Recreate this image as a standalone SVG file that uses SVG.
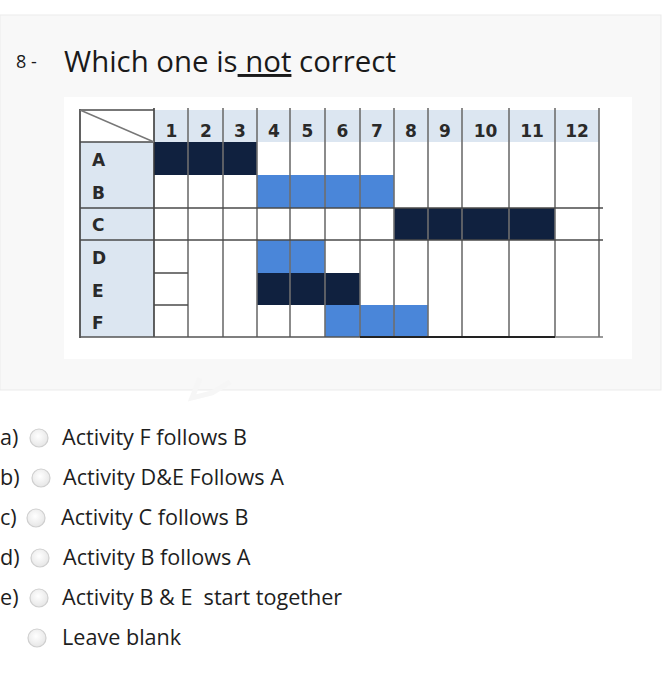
<svg xmlns="http://www.w3.org/2000/svg" width="664" height="700" viewBox="0 0 664 700">
<defs>
<radialGradient id="rg" cx="0.45" cy="0.4" r="0.6">
<stop offset="0" stop-color="#ffffff"/>
<stop offset="1" stop-color="#e6e6e6"/>
</radialGradient>
</defs>
<style>
.q{font-family:"Open Sans",sans-serif;fill:#1a1a1a}
.opt{font-family:"Open Sans",sans-serif;font-size:21.6px;fill:#1e1e1e}
.hd{font-family:"DejaVu Sans",sans-serif;font-weight:700;font-size:17px;fill:#2a2a2a;text-anchor:middle}
.lb{font-family:"DejaVu Sans",sans-serif;font-weight:700;font-size:17px;fill:#2a2a2a}
.v{stroke:#6e6e6e;stroke-width:1.6}
.h{stroke:#4a4a4a;stroke-width:1.6}
.dk{fill:#10213f}
.bl{fill:#4a86d9}
.rad{fill:url(#rg);stroke:#cfcfcf;stroke-width:1.2}
</style>
<rect x="0" y="0" width="664" height="700" fill="#ffffff"/>
<rect id="panel" x="0" y="15" width="661" height="375" fill="#f8f8f8" stroke="#ebebeb" stroke-width="1"/>
<g id="title">
<text class="q" x="16" y="68" font-size="18">8 -</text>
<text class="q" x="64" y="72" font-size="29.4">Which one is<tspan text-decoration="underline"> not</tspan> correct</text>
</g>
<rect id="imgbg" x="64" y="97" width="568" height="262" fill="#ffffff"/>
<path d="M200 378 L192 398 L212 393 L230 382" fill="none" stroke="#f6f6f6" stroke-width="5"/>
<g id="chart">
<rect x="154" y="110" width="445" height="32" fill="#dce6f1"/>
<rect x="80" y="142" width="74" height="195" fill="#dce6f1"/>
<rect x="80" y="110" width="74" height="32" fill="#ffffff"/>
<rect class="dk" x="154" y="142" width="103" height="33"/>
<rect class="bl" x="257" y="175" width="137" height="33"/>
<rect class="dk" x="394" y="208" width="161" height="32"/>
<rect class="bl" x="257" y="240" width="68" height="33"/>
<rect class="dk" x="257" y="273" width="103" height="32"/>
<rect class="bl" x="325" y="305" width="103" height="32"/>
<g id="gridlines">
<line class="v" x1="188" y1="108" x2="188" y2="337"/>
<line class="v" x1="223" y1="108" x2="223" y2="337"/>
<line class="v" x1="257" y1="108" x2="257" y2="337"/>
<line class="v" x1="290" y1="108" x2="290" y2="337"/>
<line class="v" x1="325" y1="108" x2="325" y2="337"/>
<line class="v" x1="360" y1="108" x2="360" y2="337"/>
<line class="v" x1="394" y1="108" x2="394" y2="337"/>
<line class="v" x1="428" y1="108" x2="428" y2="337"/>
<line class="v" x1="462" y1="108" x2="462" y2="337"/>
<line class="v" x1="509" y1="108" x2="509" y2="337"/>
<line class="v" x1="555" y1="108" x2="555" y2="337"/>
<line class="v" x1="599" y1="108" x2="599" y2="337"/>
<line x1="154" y1="108" x2="154" y2="337" stroke="#3a3a3a" stroke-width="1.6"/>
<line x1="80" y1="109" x2="80" y2="338" stroke="#3a3a3a" stroke-width="1.6"/>
<line class="h" x1="80" y1="110" x2="154" y2="110"/>
<line class="h" x1="80" y1="142" x2="154" y2="142"/>
<line x1="80" y1="110" x2="154" y2="142" stroke="#777" stroke-width="1.4"/>
<line class="h" x1="80" y1="208" x2="603" y2="208"/>
<line class="h" x1="80" y1="240" x2="603" y2="240"/>
<line class="h" x1="154" y1="273" x2="188" y2="273"/>
<line class="h" x1="154" y1="305" x2="188" y2="305"/>
<line x1="80" y1="337" x2="360" y2="337" stroke="#555" stroke-width="1.6"/>
<line x1="360" y1="337" x2="555" y2="337" stroke="#222" stroke-width="2"/>
<line x1="555" y1="337" x2="603" y2="337" stroke="#777" stroke-width="1.6"/>
</g>
<g id="header">
<text class="hd" x="171.5" y="137">1</text>
<text class="hd" x="206" y="137">2</text>
<text class="hd" x="240" y="137">3</text>
<text class="hd" x="274" y="137">4</text>
<text class="hd" x="307.5" y="137">5</text>
<text class="hd" x="342.5" y="137">6</text>
<text class="hd" x="377" y="137">7</text>
<text class="hd" x="411" y="137">8</text>
<text class="hd" x="445" y="137">9</text>
<text class="hd" x="485.5" y="137">10</text>
<text class="hd" x="532" y="137">11</text>
<text class="hd" x="577" y="137">12</text>
</g>
<g id="rowlabels">
<text class="lb" x="92" y="166">A</text>
<text class="lb" x="92" y="199">B</text>
<text class="lb" x="92" y="231">C</text>
<text class="lb" x="92" y="264">D</text>
<text class="lb" x="92" y="297">E</text>
<text class="lb" x="92" y="329">F</text>
</g>
</g>
<g id="options">
<g id="opt-a"><text class="opt" x="0" y="445">a)</text><circle class="rad" cx="39" cy="438" r="9"/><text class="opt" x="62" y="445">Activity F follows B</text></g>
<g id="opt-b"><text class="opt" x="0" y="485">b)</text><circle class="rad" cx="41" cy="478" r="9"/><text class="opt" x="63" y="485">Activity D&amp;E Follows A</text></g>
<g id="opt-c"><text class="opt" x="0" y="525">c)</text><circle class="rad" cx="36" cy="518" r="9"/><text class="opt" x="61" y="525">Activity C follows B</text></g>
<g id="opt-d"><text class="opt" x="0" y="565">d)</text><circle class="rad" cx="40" cy="558" r="9"/><text class="opt" x="63" y="565">Activity B follows A</text></g>
<g id="opt-e"><text class="opt" x="0" y="605">e)</text><circle class="rad" cx="39" cy="598" r="9"/><text class="opt" x="62" y="605" xml:space="preserve">Activity B &amp; E  start together</text></g>
<g id="opt-blank"><circle class="rad" cx="37" cy="638" r="9"/><text class="opt" x="62" y="645">Leave blank</text></g>
</g>
</svg>
